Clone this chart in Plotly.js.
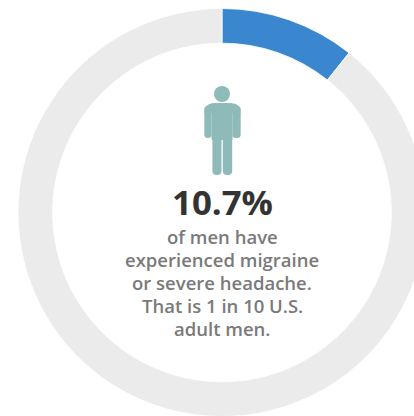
<!DOCTYPE html>
<html>
<head>
<meta charset="utf-8">
<script src="https://cdn.plot.ly/plotly-3.0.1.min.js"></script>
<style>
  html, body { margin: 0; padding: 0; width: 414px; height: 416px; overflow: hidden; background: #fff; }
  #chart { width: 444px; height: 425px; }
</style>
</head>
<body>
<div id="chart"></div>
<script>
// Share of U.S. adult men reporting migraine or severe headache
const categories = ["Men with migraine or severe headache", "Other men"];
const shares = [10.7, 89.3];
const sliceColors = ["#3a86cf", "#ebebeb"];
const headline = "10.7%";
const captionLines = [
  "of men have",
  "experienced migraine",
  "or severe headache.",
  "That is 1 in 10 U.S.",
  "adult men."
];

const W = 444, H = 425;          // canvas, ring centred on it and cut by the window
const CX = 222, CY = 212.5, R = 204;

// Pixel to paper helpers for the text and the pictogram
const px = x => x / W;
const py = y => 1 - y / H;
const pt = (x, y) => px(x).toFixed(5) + "," + py(y).toFixed(5);

// Rounded rectangle path, given in pixel coordinates
function roundedBar(x0, y0, x1, y1, r) {
  return "M" + pt(x0 + r, y0) + " L" + pt(x1 - r, y0) +
    " Q" + pt(x1, y0) + " " + pt(x1, y0 + r) +
    " L" + pt(x1, y1 - r) + " Q" + pt(x1, y1) + " " + pt(x1 - r, y1) +
    " L" + pt(x0 + r, y1) + " Q" + pt(x0, y1) + " " + pt(x0, y1 - r) +
    " L" + pt(x0, y0 + r) + " Q" + pt(x0, y0) + " " + pt(x0 + r, y0) + " Z";
}

const personColor = "#8fbaba";
const personPart = path => ({
  type: "path", xref: "paper", yref: "paper", path: path,
  fillcolor: personColor, line: { width: 0 }, layer: "above"
});

// Standing figure: head, shoulders, torso, arms and legs
const shapes = [
  { type: "circle", xref: "paper", yref: "paper",
    x0: px(214), x1: px(230), y0: py(102), y1: py(86),
    fillcolor: personColor, line: { width: 0 } },
  personPart(roundedBar(211.5, 103.3, 232.5, 140, 1)),
  personPart(roundedBar(204.3, 106, 211.6, 138, 3.4)),
  personPart(roundedBar(232.4, 106, 240.7, 138, 3.4)),
  personPart("M" + pt(204.3, 113) + " Q" + pt(204.3, 103.3) + " " + pt(214, 103.3) +
    " L" + pt(231, 103.3) + " Q" + pt(240.7, 103.3) + " " + pt(240.7, 113) + " Z"),
  personPart(roundedBar(212.4, 132, 221.5, 175, 4.2)),
  personPart(roundedBar(222.8, 132, 232.2, 175, 4.2))
];

const textFamily = '"Open Sans", sans-serif';
const annotations = [{
  text: "<b>" + headline + "</b>", x: px(CX), y: py(217), xref: "paper", yref: "paper",
  xanchor: "center", yanchor: "bottom", yshift: -10, showarrow: false,
  font: { family: textFamily, size: 34.8, color: "#333333" }
}];

const captionBaselines = [244, 267, 290, 313, 336];
captionLines.forEach((line, i) => annotations.push({
  text: line, x: px(CX), y: py(captionBaselines[i]), xref: "paper", yref: "paper",
  xanchor: "center", yanchor: "bottom", yshift: -6, showarrow: false, borderpad: 0,
  font: { family: textFamily, size: 18.5, color: "#7a7a7a", weight: 600 }
}));

Plotly.newPlot("chart", [{
  type: "pie",
  labels: categories,
  values: shares,
  hole: 0.83,
  sort: false,
  direction: "clockwise",
  rotation: 0,
  textinfo: "none",
  hoverinfo: "label+percent",
  showlegend: false,
  marker: { colors: sliceColors, line: { color: "#ffffff", width: 0.8 } },
  domain: { x: [(CX - R) / W, (CX + R) / W], y: [(H - CY - R) / H, (H - CY + R) / H] }
}], {
  width: W,
  height: H,
  margin: { l: 0, r: 0, t: 0, b: 0 },
  paper_bgcolor: "#ffffff",
  showlegend: false,
  shapes: shapes,
  annotations: annotations
}, { displayModeBar: false, staticPlot: true });
</script>
</body>
</html>
